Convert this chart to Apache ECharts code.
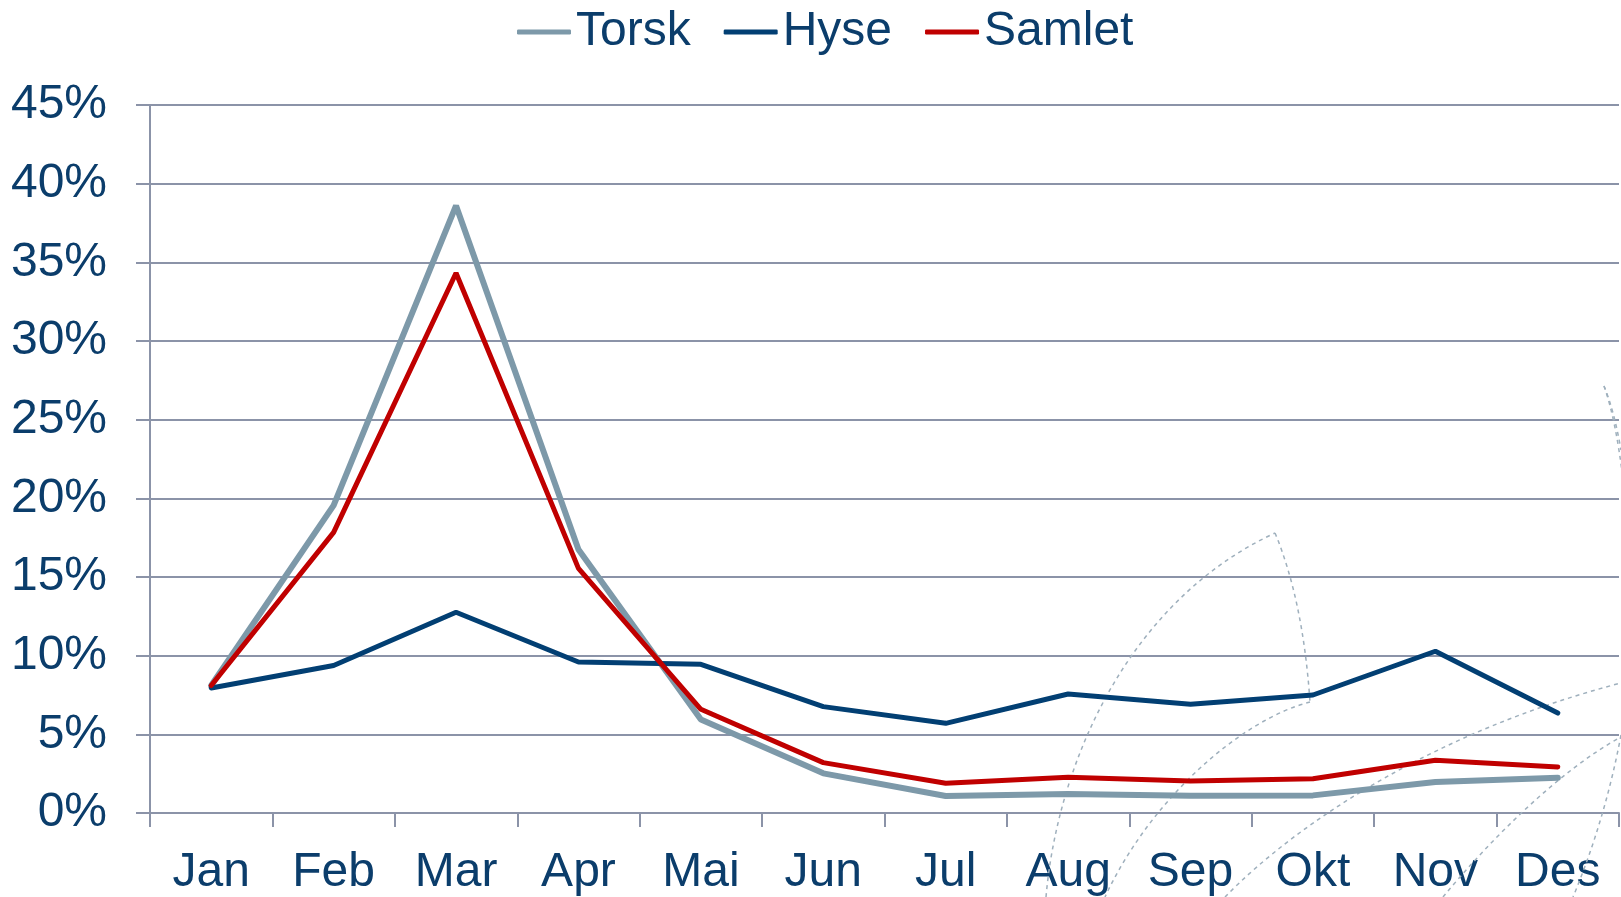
<!DOCTYPE html>
<html>
<head>
<meta charset="utf-8">
<title>Torsk / Hyse / Samlet</title>
<script src="https://cdn.jsdelivr.net/npm/echarts@6/dist/echarts.min.js"></script>
<style>
    html, body {
        margin: 0;
        padding: 0;
        background: #fff;
    }
    #chart {
        width: 1621px;
        height: 897px;
    }
</style>
</head>
<body>
<div id="chart"></div>
<script>
// data (percent)
const months = ['Jan', 'Feb', 'Mar', 'Apr', 'Mai', 'Jun', 'Jul', 'Aug', 'Sep', 'Okt', 'Nov', 'Des'];
const torsk = [8.1, 19.55, 38.6, 16.75, 5.95, 2.52, 1.08, 1.21, 1.1, 1.12, 1.97, 2.24];
const hyse = [7.95, 9.38, 12.76, 9.6, 9.45, 6.76, 5.7, 7.56, 6.91, 7.5, 10.28, 6.35];
const samlet = [8.1, 17.84, 34.32, 15.55, 6.59, 3.2, 1.89, 2.27, 2.03, 2.18, 3.35, 2.93];
const yTicks = { min: 0, max: 45, step: 5 };

const txtColor = '#0b3d6b';
const axisColor = '#8b93a8';
const font = '"Liberation Sans", Arial, sans-serif';

const chart = echarts.init(document.getElementById('chart'));

// dashed background decoration (watermark curves)
function deco(shape) {
    return {
        type: 'bezierCurve',
        z: 1,
        silent: true,
        shape: shape,
        style: {
            fill: null,
            stroke: '#9fb0bd',
            lineWidth: 1.5,
            lineDash: [4, 4]
        }
    };
}

const options = {
    backgroundColor: '#fff',
    animation: false,
    textStyle: { fontFamily: font },
    legend: {
        top: 3,
        left: 512,
        itemWidth: 54,
        itemHeight: 5,
        itemGap: 33,
        icon: 'roundRect',
        textStyle: {
            color: txtColor,
            fontSize: 48,
            fontFamily: font
        },
        data: ['Torsk', 'Hyse', 'Samlet']
    },
    grid: {
        left: 150,
        right: 2,
        top: 105,
        bottom: 84,
        containLabel: false
    },
    xAxis: {
        type: 'category',
        data: months,
        boundaryGap: true,
        axisLine: { lineStyle: { color: axisColor, width: 2 } },
        axisTick: { show: true, length: 14, lineStyle: { color: axisColor, width: 2 } },
        axisLabel: {
            color: txtColor,
            fontSize: 48,
            fontFamily: font,
            margin: 36
        }
    },
    yAxis: {
        type: 'value',
        min: yTicks.min,
        max: yTicks.max,
        interval: yTicks.step,
        axisLine: { show: true, lineStyle: { color: axisColor, width: 2 } },
        axisTick: { show: true, length: 14, lineStyle: { color: axisColor, width: 2 } },
        splitLine: { show: true, lineStyle: { color: axisColor, width: 2 } },
        axisLabel: {
            color: txtColor,
            fontSize: 48,
            fontFamily: font,
            margin: 43,
            formatter: '{value}%'
        }
    },
    series: [
        {
            name: 'Torsk',
            type: 'line',
            data: torsk,
            showSymbol: false,
            z: 3,
            itemStyle: { color: '#7d99a9' },
            lineStyle: { color: '#7d99a9', width: 6, cap: 'round' }
        },
        {
            name: 'Hyse',
            type: 'line',
            data: hyse,
            showSymbol: false,
            z: 4,
            itemStyle: { color: '#023f73' },
            lineStyle: { color: '#023f73', width: 5, cap: 'round' }
        },
        {
            name: 'Samlet',
            type: 'line',
            data: samlet,
            showSymbol: false,
            z: 5,
            itemStyle: { color: '#c00000' },
            lineStyle: { color: '#c00000', width: 5, cap: 'round' }
        }
    ],
    graphic: [
        deco({ x1: 1046, y1: 897, cpx1: 1058, cpy1: 760, cpx2: 1130, cpy2: 600, x2: 1275, y2: 533 }),
        deco({ x1: 1275, y1: 533, cpx1: 1303, cpy1: 600, x2: 1310, y2: 702 }),
        deco({ x1: 1310, y1: 702, cpx1: 1240, cpy1: 720, cpx2: 1150, cpy2: 800, x2: 1105, y2: 897 }),
        deco({ x1: 1225, y1: 897, cpx1: 1300, cpy1: 820, cpx2: 1440, cpy2: 730, x2: 1621, y2: 683 }),
        deco({ x1: 1443, y1: 897, cpx1: 1490, cpy1: 840, cpx2: 1560, cpy2: 770, x2: 1621, y2: 737 }),
        deco({ x1: 1621, y1: 735, cpx1: 1605, cpy1: 820, x2: 1573, y2: 897 }),
        deco({ x1: 1604, y1: 386, cpx1: 1616, cpy1: 420, x2: 1623, y2: 480 }),
        deco({ x1: 1604, y1: 386, cpx1: 1614, cpy1: 410, x2: 1621, y2: 450 })
    ]
};

chart.setOption(options);
</script>
</body>
</html>
